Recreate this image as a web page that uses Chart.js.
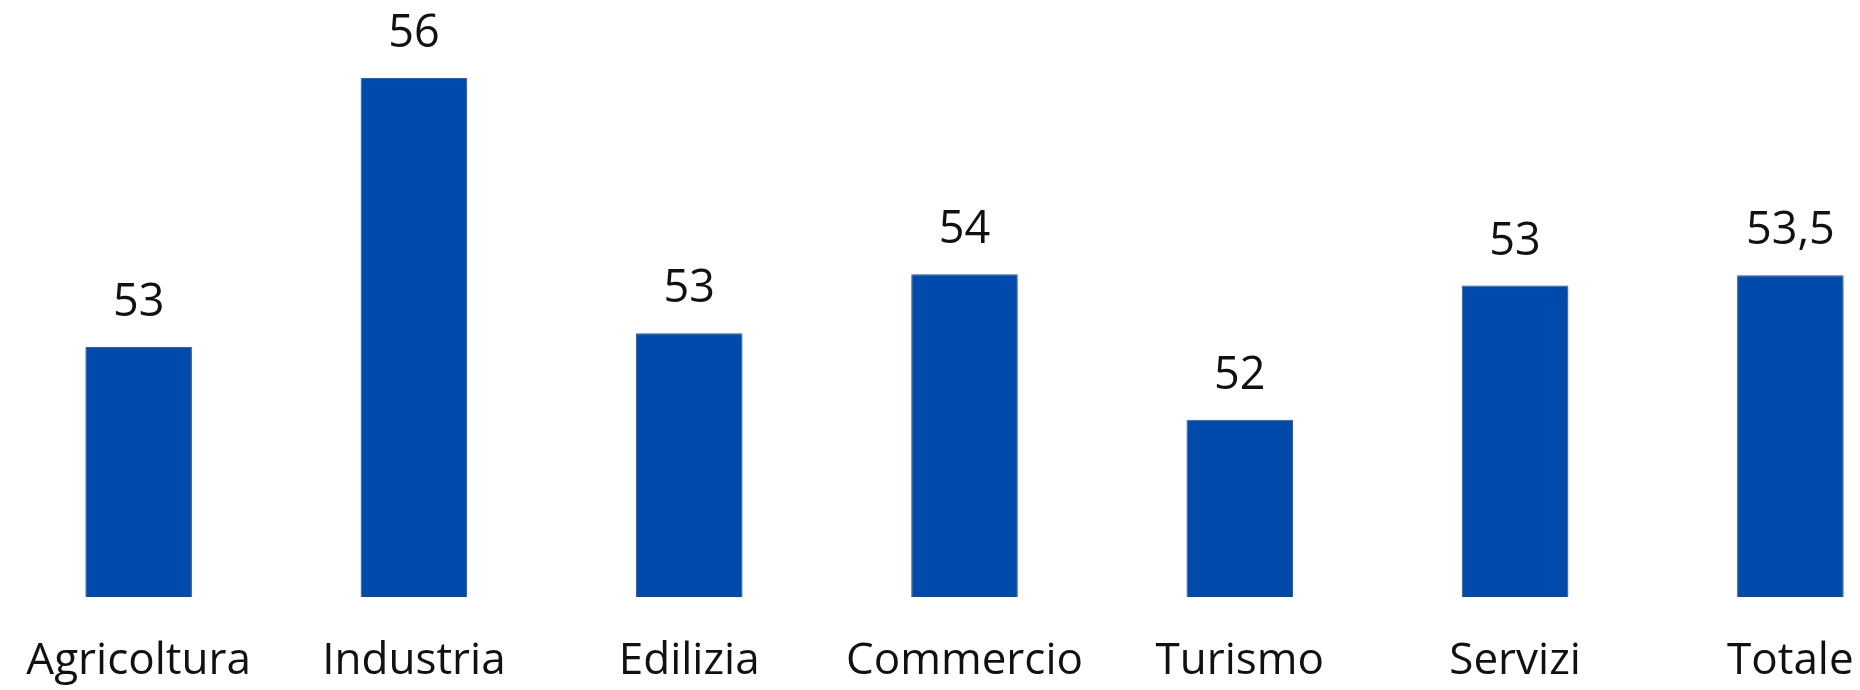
<!DOCTYPE html>
<html>
<head>
<meta charset="utf-8">
<script src="https://cdn.jsdelivr.net/npm/chart.js@4.4.4/dist/chart.umd.min.js"></script>
<style>
  html, body { margin: 0; padding: 0; background: #fff; overflow: hidden; }
  #wrap { position: relative; width: 1928px; height: 690px; }
</style>
</head>
<body>
<div id="wrap"><canvas id="chart"></canvas></div>
<script>
// Sector values (bar heights) and the printed labels above each bar.
const categories = ['Agricoltura', 'Industria', 'Edilizia', 'Commercio', 'Turismo', 'Servizi', 'Totale'];
const values = [52.89, 56, 53.05, 53.73, 52.05, 53.6, 53.72];
const valueLabels = ['53', '56', '53', '54', '52', '53', '53,5'];

const FONT = '"Open Sans", "Noto Sans", sans-serif';

// soft grey halo round the bars, like the original's shadow
const barShadow = {
    id: 'barShadow',
    beforeDatasetsDraw(chart) {
        const { ctx } = chart;
        ctx.save();
        ctx.shadowColor = 'rgba(0,0,0,0.3)';
        ctx.shadowBlur = 6;
        ctx.shadowOffsetX = 1;
        ctx.shadowOffsetY = 2;
    },
    afterDatasetsDraw(chart) {
        chart.ctx.restore();
    },
};

// printed value above each bar
const valueText = {
    id: 'valueText',
    afterDatasetsDraw(chart) {
        const { ctx } = chart;
        const meta = chart.getDatasetMeta(0);
        ctx.save();
        ctx.fillStyle = '#111';
        ctx.font = `45px ${FONT}`;
        ctx.textAlign = 'center';
        ctx.textBaseline = 'alphabetic';
        meta.data.forEach((bar, i) => {
            ctx.fillText(valueLabels[i], bar.x, bar.y - 31);
        });
        ctx.restore();
    },
};

new Chart(document.getElementById('chart'), {
    type: 'bar',
    data: {
        labels: categories,
        datasets: [{
            data: values,
            backgroundColor: '#004AAC',
            borderColor: '#2f66c4',
            borderWidth: 1,
            borderSkipped: false,
            categoryPercentage: 1,
            barPercentage: 0.387,
        }],
    },
    options: {
        responsive: true,
        maintainAspectRatio: false,
        animation: false,
        events: [],
        layout: { padding: { top: 78, left: 1, right: 0, bottom: 0 } },
        plugins: { legend: { display: false }, tooltip: { enabled: false } },
        scales: {
            x: {
                grid: { display: false, drawTicks: false },
                border: { display: false },
                ticks: { color: '#111', font: { family: FONT, size: 44 }, padding: 38, maxRotation: 0, autoSkip: false },
                afterFit(scale) {
                    scale.height = 93;
                    // labels fit inside their categories; no side padding needed
                    scale.paddingLeft = 0;
                    scale.paddingRight = 0;
                },
            },
            y: {
                display: false,
                min: 50,
                max: 56,
            },
        },
    },
    plugins: [barShadow, valueText],
});
</script>
</body>
</html>
